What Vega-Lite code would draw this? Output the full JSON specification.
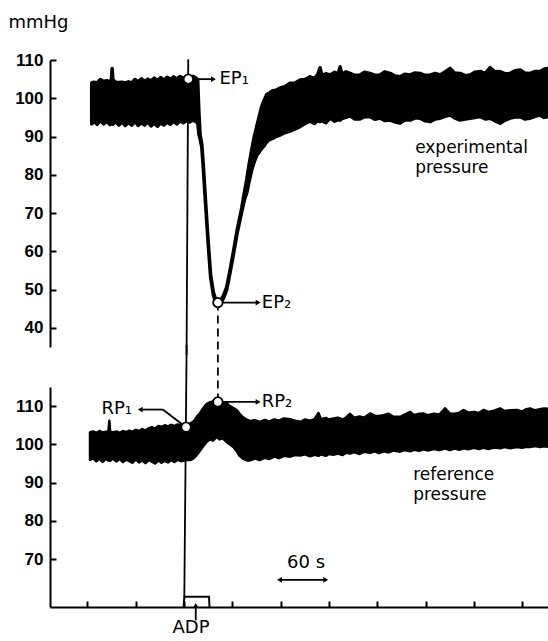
{
"$schema":"https://vega.github.io/schema/vega-lite/v6.json",
"width":498,"height":547,
"autosize":{"type":"none"},
"padding":{"left":50,"top":60,"right":0,"bottom":34},
"background":"white",
"config":{"view":{"stroke":null},
 "axis":{"grid":false,"domainColor":"black","domainWidth":2,"tickColor":"black","tickWidth":2,"tickSize":-6,"labelColor":"black","labelFont":"Liberation Sans","labelFontWeight":"bold","labelFontSize":17,"labelPadding":13,"titleColor":"black"},
 "text":{"font":"DejaVu Sans","fontSize":17,"color":"black"}},
"resolve":{"scale":{"y":"independent"},"axis":{"y":"independent"}},
"layer":[
{"layer":[
 {"data":{"values":[
  {"t":-114.7,"lo":93.3,"hi":104.0},{"t":-112,"lo":94.0,"hi":104.2},{"t":-108,"lo":93.2,"hi":104.0},{"t":-104,"lo":94.2,"hi":104.9},{"t":-100,"lo":93.3,"hi":104.4},{"t":-96,"lo":94.0,"hi":104.6},{"t":-92,"lo":93.1,"hi":104.3},{"t":-90.2,"lo":93.4,"hi":105.0},{"t":-89.3,"lo":93.6,"hi":107.8},{"t":-88.4,"lo":93.2,"hi":104.8},{"t":-85,"lo":93.9,"hi":104.2},{"t":-81,"lo":93.0,"hi":104.1},{"t":-77,"lo":93.8,"hi":104.2},{"t":-73,"lo":92.9,"hi":104.0},{"t":-69,"lo":93.7,"hi":104.3},{"t":-65,"lo":93.0,"hi":104.0},{"t":-61,"lo":93.9,"hi":104.9},{"t":-57,"lo":92.9,"hi":104.3},{"t":-53,"lo":93.6,"hi":105.1},{"t":-49,"lo":93.0,"hi":104.4},{"t":-45,"lo":93.8,"hi":105.0},{"t":-41,"lo":92.8,"hi":104.5},{"t":-37,"lo":93.5,"hi":105.3},{"t":-33,"lo":92.7,"hi":104.6},{"t":-29,"lo":93.6,"hi":105.4},{"t":-25,"lo":93.0,"hi":104.7},{"t":-21,"lo":93.8,"hi":105.5},{"t":-17,"lo":93.2,"hi":104.9},{"t":-13,"lo":94.0,"hi":105.6},{"t":-9,"lo":93.3,"hi":105.0},{"t":-5,"lo":94.1,"hi":105.7},{"t":-1,"lo":93.6,"hi":105.2},{"t":3,"lo":94.2,"hi":105.6},{"t":7,"lo":93.8,"hi":105.4},{"t":11,"lo":94.3,"hi":105.7},{"t":15,"lo":93.9,"hi":105.3},{"t":17,"lo":93.5,"hi":104.5},{"t":18.5,"lo":90.5,"hi":96.0},{"t":20,"lo":89.3,"hi":90.3},{"t":22,"lo":87.2,"hi":88.0},{"t":24,"lo":81.5,"hi":82.2},{"t":26,"lo":74.7,"hi":75.4},{"t":28,"lo":68.2,"hi":68.9},{"t":30,"lo":61.8,"hi":62.5},{"t":33,"lo":53.2,"hi":53.9},{"t":36.4,"lo":48.6,"hi":49.3},{"t":39.5,"lo":46.6,"hi":47.3},{"t":42.5,"lo":46.1,"hi":46.8},{"t":46,"lo":46.6,"hi":47.3},{"t":49.5,"lo":48.0,"hi":48.7},{"t":53,"lo":50.0,"hi":50.7},{"t":57,"lo":54.3,"hi":55.0},{"t":61.3,"lo":59.2,"hi":59.9},{"t":66,"lo":64.8,"hi":65.6},{"t":71.6,"lo":70.3,"hi":71.3},{"t":75,"lo":73.5,"hi":75.5},{"t":77.9,"lo":75.3,"hi":78.8},{"t":81,"lo":78.5,"hi":83.0},{"t":84.1,"lo":81.3,"hi":86.6},{"t":87,"lo":83.3,"hi":89.8},{"t":90.3,"lo":85.1,"hi":92.7},{"t":93.5,"lo":86.0,"hi":95.4},{"t":96.5,"lo":86.9,"hi":97.9},{"t":99.5,"lo":87.6,"hi":99.5},{"t":102.7,"lo":88.6,"hi":101.0},{"t":106,"lo":89.2,"hi":101.4},{"t":110,"lo":89.5,"hi":102.0},{"t":114,"lo":90.0,"hi":102.1},{"t":119.3,"lo":90.4,"hi":102.7},{"t":125,"lo":91.0,"hi":103.0},{"t":131.7,"lo":91.4,"hi":103.9},{"t":138,"lo":92.0,"hi":104.0},{"t":144.1,"lo":92.6,"hi":104.8},{"t":150,"lo":93.4,"hi":104.9},{"t":156.5,"lo":94.0,"hi":105.6},{"t":162,"lo":93.4,"hi":105.2},{"t":166,"lo":94.2,"hi":106.2},{"t":168.9,"lo":93.9,"hi":108.0},{"t":171,"lo":94.2,"hi":106.0},{"t":176,"lo":93.6,"hi":106.4},{"t":181.4,"lo":94.8,"hi":106.1},{"t":187,"lo":94.0,"hi":106.8},{"t":191.5,"lo":94.4,"hi":106.4},{"t":193.8,"lo":94.3,"hi":108.2},{"t":196,"lo":94.7,"hi":106.3},{"t":201,"lo":95.0,"hi":106.9},{"t":206.2,"lo":95.4,"hi":106.5},{"t":212,"lo":94.6,"hi":106.0},{"t":218.6,"lo":94.6,"hi":106.1},{"t":224,"lo":95.2,"hi":106.8},{"t":231,"lo":95.2,"hi":106.5},{"t":237,"lo":94.5,"hi":106.0},{"t":243.5,"lo":94.8,"hi":106.1},{"t":249,"lo":94.2,"hi":106.9},{"t":255.9,"lo":94.3,"hi":106.5},{"t":262,"lo":93.8,"hi":105.8},{"t":268.3,"lo":93.5,"hi":105.6},{"t":274,"lo":94.3,"hi":106.3},{"t":280.7,"lo":94.3,"hi":106.1},{"t":287,"lo":94.9,"hi":106.6},{"t":293.2,"lo":94.8,"hi":106.5},{"t":299,"lo":94.1,"hi":106.0},{"t":305.6,"lo":93.9,"hi":106.1},{"t":312,"lo":94.6,"hi":106.5},{"t":318,"lo":94.8,"hi":106.1},{"t":324,"lo":95.3,"hi":106.9},{"t":330.4,"lo":95.6,"hi":107.8},{"t":336,"lo":94.9,"hi":106.6},{"t":342.9,"lo":94.3,"hi":106.5},{"t":349,"lo":94.6,"hi":105.9},{"t":355.3,"lo":94.8,"hi":106.1},{"t":361,"lo":95.0,"hi":106.8},{"t":367.7,"lo":95.2,"hi":107.0},{"t":374,"lo":94.6,"hi":106.5},{"t":380.1,"lo":94.8,"hi":108.0},{"t":386,"lo":94.1,"hi":106.9},{"t":392.5,"lo":93.5,"hi":107.0},{"t":399,"lo":94.3,"hi":106.4},{"t":405,"lo":94.8,"hi":106.5},{"t":411,"lo":95.1,"hi":107.2},{"t":417.4,"lo":95.2,"hi":107.4},{"t":423,"lo":94.6,"hi":106.6},{"t":429.8,"lo":94.8,"hi":106.5},{"t":436,"lo":95.3,"hi":107.0},{"t":442.2,"lo":95.6,"hi":107.0},{"t":447,"lo":95.0,"hi":107.6},{"t":452,"lo":95.2,"hi":107.8}]},
  "mark":{"type":"area","color":"black","stroke":"black","strokeWidth":3.5,"strokeJoin":"round"},
  "encoding":{
   "x":{"field":"t","type":"quantitative","scale":{"domain":[-166.5,452],"zero":false,"nice":false},"axis":{"values":[-120,-60,0,60,120,180,240,300,360,420],"labels":false,"title":null,"orient":"bottom"}},
   "y":{"field":"lo","type":"quantitative","scale":{"domain":[35,110],"range":[287,0],"zero":false,"nice":false},"axis":{"values":[40,50,60,70,80,90,100,110],"orient":"left","title":"mmHg","titleAngle":0,"titleAlign":"left","titleBaseline":"middle","titleX":-42,"titleY":-38,"titleFont":"DejaVu Sans","titleFontSize":18,"titleFontWeight":"normal"}},
   "y2":{"field":"hi"}}},
 {"data":{"values":[{"t":5.2,"t2":3.1,"v":110.2,"v2":33},{"t":5.3,"t2":35.5,"v":105.0,"v2":105.0},{"t":42,"t2":91,"v":46.6,"v2":46.6}]},
  "mark":{"type":"rule","color":"black","strokeWidth":1.8},
  "encoding":{
   "x":{"field":"t","type":"quantitative","scale":{"domain":[-166.5,452],"zero":false,"nice":false},"axis":{"values":[-120,-60,0,60,120,180,240,300,360,420],"labels":false,"title":null,"orient":"bottom"}},
   "x2":{"field":"t2"},
   "y":{"field":"v","type":"quantitative","scale":{"domain":[35,110],"range":[287,0],"zero":false,"nice":false},"axis":{"values":[40,50,60,70,80,90,100,110],"orient":"left","title":"mmHg","titleAngle":0,"titleAlign":"left","titleBaseline":"middle","titleX":-42,"titleY":-38,"titleFont":"DejaVu Sans","titleFontSize":18,"titleFontWeight":"normal"}},
   "y2":{"field":"v2"}}},
 {"data":{"values":[{"t":42,"v":46.6,"v2":20.7}]},
  "mark":{"type":"rule","color":"black","strokeWidth":1.8,"strokeDash":[8,5]},
  "encoding":{
   "x":{"field":"t","type":"quantitative","scale":{"domain":[-166.5,452],"zero":false,"nice":false},"axis":{"values":[-120,-60,0,60,120,180,240,300,360,420],"labels":false,"title":null,"orient":"bottom"}},
   "y":{"field":"v","type":"quantitative","scale":{"domain":[35,110],"range":[287,0],"zero":false,"nice":false},"axis":{"values":[40,50,60,70,80,90,100,110],"orient":"left","title":"mmHg","titleAngle":0,"titleAlign":"left","titleBaseline":"middle","titleX":-42,"titleY":-38,"titleFont":"DejaVu Sans","titleFontSize":18,"titleFontWeight":"normal"}},
   "y2":{"field":"v2"}}},
 {"data":{"values":[{"t":36.5,"v":105.0,"s":"triangle-right"},{"t":92,"v":46.6,"s":"triangle-right"}]},
  "mark":{"type":"point","filled":true,"color":"black","size":32,"opacity":1},
  "encoding":{
   "x":{"field":"t","type":"quantitative","scale":{"domain":[-166.5,452],"zero":false,"nice":false},"axis":{"values":[-120,-60,0,60,120,180,240,300,360,420],"labels":false,"title":null,"orient":"bottom"}},
   "y":{"field":"v","type":"quantitative","scale":{"domain":[35,110],"range":[287,0],"zero":false,"nice":false},"axis":{"values":[40,50,60,70,80,90,100,110],"orient":"left","title":"mmHg","titleAngle":0,"titleAlign":"left","titleBaseline":"middle","titleX":-42,"titleY":-38,"titleFont":"DejaVu Sans","titleFontSize":18,"titleFontWeight":"normal"}},
   "shape":{"field":"s","type":"nominal","scale":null}}},
 {"data":{"values":[{"t":5.3,"v":105.0},{"t":42,"v":46.6}]},
  "mark":{"type":"point","filled":true,"fill":"white","stroke":"black","strokeWidth":1.8,"size":90,"opacity":1},
  "encoding":{
   "x":{"field":"t","type":"quantitative","scale":{"domain":[-166.5,452],"zero":false,"nice":false},"axis":{"values":[-120,-60,0,60,120,180,240,300,360,420],"labels":false,"title":null,"orient":"bottom"}},
   "y":{"field":"v","type":"quantitative","scale":{"domain":[35,110],"range":[287,0],"zero":false,"nice":false},"axis":{"values":[40,50,60,70,80,90,100,110],"orient":"left","title":"mmHg","titleAngle":0,"titleAlign":"left","titleBaseline":"middle","titleX":-42,"titleY":-38,"titleFont":"DejaVu Sans","titleFontSize":18,"titleFontWeight":"normal"}}}},
 {"data":{"values":[{"t":43.9,"v":105.0,"label":"EP₁"},{"t":96.5,"v":46.6,"label":"EP₂"}]},
  "mark":{"type":"text","align":"left","baseline":"middle","fontSize":18},
  "encoding":{
   "x":{"field":"t","type":"quantitative","scale":{"domain":[-166.5,452],"zero":false,"nice":false},"axis":{"values":[-120,-60,0,60,120,180,240,300,360,420],"labels":false,"title":null,"orient":"bottom"}},
   "y":{"field":"v","type":"quantitative","scale":{"domain":[35,110],"range":[287,0],"zero":false,"nice":false},"axis":{"values":[40,50,60,70,80,90,100,110],"orient":"left","title":"mmHg","titleAngle":0,"titleAlign":"left","titleBaseline":"middle","titleX":-42,"titleY":-38,"titleFont":"DejaVu Sans","titleFontSize":18,"titleFontWeight":"normal"}},
   "text":{"field":"label"}}},
 {"data":{"values":[{"t":287,"v":87.0,"label":"experimental"},{"t":287,"v":81.8,"label":"pressure"}]},
  "mark":{"type":"text","align":"left","baseline":"middle"},
  "encoding":{
   "x":{"field":"t","type":"quantitative","scale":{"domain":[-166.5,452],"zero":false,"nice":false},"axis":{"values":[-120,-60,0,60,120,180,240,300,360,420],"labels":false,"title":null,"orient":"bottom"}},
   "y":{"field":"v","type":"quantitative","scale":{"domain":[35,110],"range":[287,0],"zero":false,"nice":false},"axis":{"values":[40,50,60,70,80,90,100,110],"orient":"left","title":"mmHg","titleAngle":0,"titleAlign":"left","titleBaseline":"middle","titleX":-42,"titleY":-38,"titleFont":"DejaVu Sans","titleFontSize":18,"titleFontWeight":"normal"}},
   "text":{"field":"label"}}}
]},
{"layer":[
 {"data":{"values":[
  {"t":-116.8,"lo":95.9,"hi":103.2},{"t":-113,"lo":96.4,"hi":103.4},{"t":-109,"lo":95.6,"hi":103.0},{"t":-105,"lo":96.2,"hi":103.5},{"t":-101,"lo":95.4,"hi":103.1},{"t":-97,"lo":96.3,"hi":103.3},{"t":-94,"lo":95.8,"hi":103.4},{"t":-92.8,"lo":96.0,"hi":106.2},{"t":-91.8,"lo":95.7,"hi":103.3},{"t":-88,"lo":96.3,"hi":103.1},{"t":-84,"lo":95.5,"hi":103.4},{"t":-80,"lo":96.2,"hi":103.0},{"t":-76,"lo":95.4,"hi":103.5},{"t":-72,"lo":96.0,"hi":103.2},{"t":-68,"lo":95.6,"hi":103.6},{"t":-64,"lo":95.2,"hi":103.3},{"t":-60,"lo":96.1,"hi":103.8},{"t":-56,"lo":95.3,"hi":103.5},{"t":-52,"lo":95.8,"hi":104.0},{"t":-48,"lo":95.1,"hi":103.6},{"t":-44,"lo":95.9,"hi":104.2},{"t":-40,"lo":95.5,"hi":104.5},{"t":-36,"lo":95.0,"hi":104.1},{"t":-32,"lo":95.8,"hi":104.8},{"t":-28,"lo":95.2,"hi":104.6},{"t":-24,"lo":95.7,"hi":105.0},{"t":-20,"lo":95.3,"hi":104.7},{"t":-16,"lo":95.9,"hi":105.1},{"t":-12,"lo":95.4,"hi":104.8},{"t":-8,"lo":96.0,"hi":105.2},{"t":-4,"lo":95.6,"hi":105.0},{"t":0,"lo":95.8,"hi":105.3},{"t":4,"lo":96.0,"hi":105.2},{"t":8,"lo":95.9,"hi":105.5},{"t":12,"lo":96.4,"hi":106.0},{"t":15.7,"lo":97.2,"hi":107.2},{"t":19.9,"lo":98.4,"hi":108.2},{"t":24,"lo":99.6,"hi":109.5},{"t":28.2,"lo":100.7,"hi":110.6},{"t":32,"lo":101.3,"hi":111.0},{"t":36,"lo":101.0,"hi":111.2},{"t":40.6,"lo":102.0,"hi":111.3},{"t":44,"lo":101.3,"hi":111.2},{"t":48,"lo":101.6,"hi":111.0},{"t":53,"lo":100.6,"hi":110.8},{"t":57,"lo":100.0,"hi":110.0},{"t":61.3,"lo":99.3,"hi":109.5},{"t":65.4,"lo":98.2,"hi":109.0},{"t":69,"lo":97.0,"hi":108.0},{"t":73.7,"lo":96.2,"hi":107.0},{"t":78,"lo":95.8,"hi":106.5},{"t":82,"lo":95.8,"hi":106.1},{"t":88,"lo":96.3,"hi":106.3},{"t":94,"lo":95.9,"hi":105.9},{"t":100,"lo":96.5,"hi":106.4},{"t":106,"lo":96.2,"hi":106.0},{"t":112,"lo":96.8,"hi":106.5},{"t":118,"lo":96.4,"hi":106.2},{"t":124,"lo":97.0,"hi":106.8},{"t":131.7,"lo":96.8,"hi":106.6},{"t":138,"lo":97.2,"hi":106.2},{"t":144.1,"lo":97.1,"hi":105.9},{"t":150,"lo":97.4,"hi":106.5},{"t":156.5,"lo":96.9,"hi":106.2},{"t":162,"lo":97.3,"hi":106.6},{"t":166.9,"lo":97.0,"hi":108.2},{"t":170,"lo":97.4,"hi":106.6},{"t":176,"lo":97.0,"hi":106.9},{"t":180,"lo":97.5,"hi":106.5},{"t":185.5,"lo":97.3,"hi":106.8},{"t":191,"lo":97.6,"hi":107.0},{"t":197,"lo":97.2,"hi":106.5},{"t":201,"lo":97.8,"hi":107.0},{"t":206.2,"lo":97.6,"hi":108.0},{"t":211,"lo":98.0,"hi":107.0},{"t":218,"lo":97.5,"hi":107.3},{"t":224,"lo":98.1,"hi":107.0},{"t":231,"lo":97.8,"hi":108.1},{"t":237,"lo":98.2,"hi":107.5},{"t":242,"lo":97.7,"hi":107.4},{"t":247.6,"lo":98.2,"hi":107.6},{"t":254,"lo":97.9,"hi":108.0},{"t":260,"lo":98.4,"hi":107.2},{"t":268.3,"lo":98.1,"hi":107.2},{"t":274,"lo":98.5,"hi":107.8},{"t":280.7,"lo":98.2,"hi":108.5},{"t":286,"lo":98.6,"hi":107.6},{"t":292,"lo":98.3,"hi":108.0},{"t":297.3,"lo":98.7,"hi":108.1},{"t":303,"lo":98.4,"hi":107.6},{"t":310,"lo":98.8,"hi":108.0},{"t":317,"lo":98.5,"hi":107.8},{"t":324.2,"lo":98.9,"hi":109.4},{"t":330,"lo":98.5,"hi":108.1},{"t":336,"lo":98.9,"hi":108.0},{"t":342,"lo":98.6,"hi":108.3},{"t":347,"lo":99.0,"hi":109.0},{"t":353,"lo":98.7,"hi":108.3},{"t":360,"lo":99.1,"hi":108.5},{"t":366,"lo":98.8,"hi":108.2},{"t":371.8,"lo":99.1,"hi":109.0},{"t":378,"lo":98.8,"hi":108.5},{"t":385,"lo":99.2,"hi":108.8},{"t":392.5,"lo":99.0,"hi":109.4},{"t":398,"lo":99.3,"hi":108.7},{"t":405,"lo":99.0,"hi":108.9},{"t":413.2,"lo":99.3,"hi":109.0},{"t":420,"lo":99.1,"hi":108.6},{"t":425,"lo":99.4,"hi":109.2},{"t":429.8,"lo":99.3,"hi":109.4},{"t":436,"lo":99.6,"hi":108.9},{"t":442,"lo":99.3,"hi":109.2},{"t":447,"lo":99.5,"hi":109.4},{"t":452,"lo":99.4,"hi":109.3}]},
  "mark":{"type":"area","color":"black","stroke":"black","strokeWidth":2.5,"strokeJoin":"round"},
  "encoding":{
   "x":{"field":"t","type":"quantitative","scale":{"domain":[-166.5,452],"zero":false,"nice":false},"axis":{"values":[-120,-60,0,60,120,180,240,300,360,420],"labels":false,"title":null,"orient":"bottom"}},
   "y":{"field":"lo","type":"quantitative","scale":{"domain":[57.5,115],"range":[547,327],"zero":false,"nice":false},"axis":{"values":[70,80,90,100,110],"orient":"left","title":null}},
   "y2":{"field":"hi"}}},
 {"data":{"values":[{"t":3.2,"t2":0.3,"v":126,"v2":60.2},{"t":2.5,"t2":-26.5,"v":104.5,"v2":109.1},{"t":-26.5,"t2":-54,"v":109.1,"v2":109.1},{"t":42,"t2":91,"v":111.1,"v2":111.1},{"t":117.5,"t2":177,"v":64.6,"v2":64.6},{"t":14.5,"t2":14.5,"v":54.0,"v2":57.5}]},
  "mark":{"type":"rule","color":"black","strokeWidth":1.8},
  "encoding":{
   "x":{"field":"t","type":"quantitative","scale":{"domain":[-166.5,452],"zero":false,"nice":false},"axis":{"values":[-120,-60,0,60,120,180,240,300,360,420],"labels":false,"title":null,"orient":"bottom"}},
   "x2":{"field":"t2"},
   "y":{"field":"v","type":"quantitative","scale":{"domain":[57.5,115],"range":[547,327],"zero":false,"nice":false},"axis":{"values":[70,80,90,100,110],"orient":"left","title":null}},
   "y2":{"field":"v2"}}},
 {"data":{"values":[{"i":1,"t":-0.5,"v":57.5},{"i":2,"t":0.3,"v":60.2},{"i":3,"t":31,"v":60.2},{"i":4,"t":31.6,"v":57.5}]},
  "mark":{"type":"line","color":"black","strokeWidth":2},
  "encoding":{
   "x":{"field":"t","type":"quantitative","scale":{"domain":[-166.5,452],"zero":false,"nice":false},"axis":{"values":[-120,-60,0,60,120,180,240,300,360,420],"labels":false,"title":null,"orient":"bottom"}},
   "y":{"field":"v","type":"quantitative","scale":{"domain":[57.5,115],"range":[547,327],"zero":false,"nice":false},"axis":{"values":[70,80,90,100,110],"orient":"left","title":null}},
   "order":{"field":"i","type":"quantitative"}}},
 {"data":{"values":[{"t":-54.5,"v":109.1,"s":"triangle-left"},{"t":92,"v":111.1,"s":"triangle-right"},{"t":118.5,"v":64.6,"s":"triangle-left"},{"t":176,"v":64.6,"s":"triangle-right"},{"t":14.5,"v":57.9,"s":"triangle-up"}]},
  "mark":{"type":"point","filled":true,"color":"black","size":32,"opacity":1},
  "encoding":{
   "x":{"field":"t","type":"quantitative","scale":{"domain":[-166.5,452],"zero":false,"nice":false},"axis":{"values":[-120,-60,0,60,120,180,240,300,360,420],"labels":false,"title":null,"orient":"bottom"}},
   "y":{"field":"v","type":"quantitative","scale":{"domain":[57.5,115],"range":[547,327],"zero":false,"nice":false},"axis":{"values":[70,80,90,100,110],"orient":"left","title":null}},
   "shape":{"field":"s","type":"nominal","scale":null}}},
 {"data":{"values":[{"t":2.5,"v":104.5},{"t":42,"v":111.1}]},
  "mark":{"type":"point","filled":true,"fill":"white","stroke":"black","strokeWidth":1.8,"size":90,"opacity":1},
  "encoding":{
   "x":{"field":"t","type":"quantitative","scale":{"domain":[-166.5,452],"zero":false,"nice":false},"axis":{"values":[-120,-60,0,60,120,180,240,300,360,420],"labels":false,"title":null,"orient":"bottom"}},
   "y":{"field":"v","type":"quantitative","scale":{"domain":[57.5,115],"range":[547,327],"zero":false,"nice":false},"axis":{"values":[70,80,90,100,110],"orient":"left","title":null}}}},
 {"data":{"values":[{"t":96.5,"v":111.0,"label":"RP₂"}]},
  "mark":{"type":"text","align":"left","baseline":"middle","fontSize":18},
  "encoding":{
   "x":{"field":"t","type":"quantitative","scale":{"domain":[-166.5,452],"zero":false,"nice":false},"axis":{"values":[-120,-60,0,60,120,180,240,300,360,420],"labels":false,"title":null,"orient":"bottom"}},
   "y":{"field":"v","type":"quantitative","scale":{"domain":[57.5,115],"range":[547,327],"zero":false,"nice":false},"axis":{"values":[70,80,90,100,110],"orient":"left","title":null}},
   "text":{"field":"label"}}},
 {"data":{"values":[{"t":284.5,"v":92.0,"label":"reference"},{"t":284.5,"v":86.8,"label":"pressure"}]},
  "mark":{"type":"text","align":"left","baseline":"middle"},
  "encoding":{
   "x":{"field":"t","type":"quantitative","scale":{"domain":[-166.5,452],"zero":false,"nice":false},"axis":{"values":[-120,-60,0,60,120,180,240,300,360,420],"labels":false,"title":null,"orient":"bottom"}},
   "y":{"field":"v","type":"quantitative","scale":{"domain":[57.5,115],"range":[547,327],"zero":false,"nice":false},"axis":{"values":[70,80,90,100,110],"orient":"left","title":null}},
   "text":{"field":"label"}}},
 {"data":{"values":[{"t":-64.6,"v":109.3,"label":"RP₁"}]},
  "mark":{"type":"text","align":"right","baseline":"middle","fontSize":18},
  "encoding":{
   "x":{"field":"t","type":"quantitative","scale":{"domain":[-166.5,452],"zero":false,"nice":false},"axis":{"values":[-120,-60,0,60,120,180,240,300,360,420],"labels":false,"title":null,"orient":"bottom"}},
   "y":{"field":"v","type":"quantitative","scale":{"domain":[57.5,115],"range":[547,327],"zero":false,"nice":false},"axis":{"values":[70,80,90,100,110],"orient":"left","title":null}},
   "text":{"field":"label"}}},
 {"data":{"values":[{"t":151.5,"v":69.0,"label":"60 s"},{"t":8.7,"v":52.0,"label":"ADP"}]},
  "mark":{"type":"text","align":"center","baseline":"middle","fontSize":18},
  "encoding":{
   "x":{"field":"t","type":"quantitative","scale":{"domain":[-166.5,452],"zero":false,"nice":false},"axis":{"values":[-120,-60,0,60,120,180,240,300,360,420],"labels":false,"title":null,"orient":"bottom"}},
   "y":{"field":"v","type":"quantitative","scale":{"domain":[57.5,115],"range":[547,327],"zero":false,"nice":false},"axis":{"values":[70,80,90,100,110],"orient":"left","title":null}},
   "text":{"field":"label"}}}
]}
]
}
